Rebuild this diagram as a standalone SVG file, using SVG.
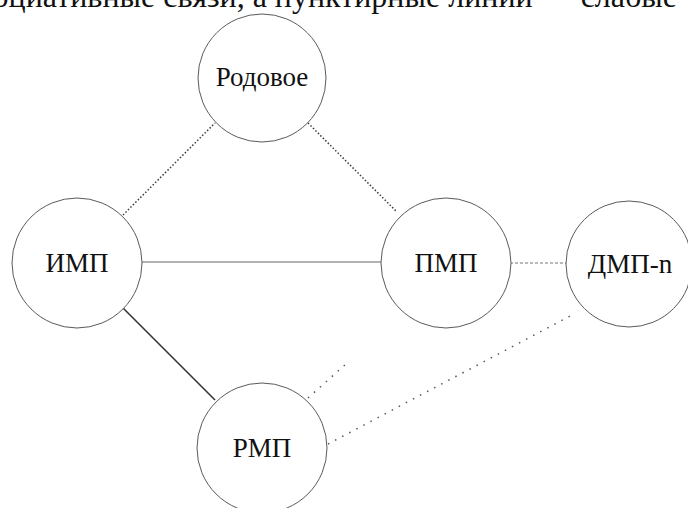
<svg xmlns="http://www.w3.org/2000/svg" width="688" height="508" viewBox="0 0 688 508">
<style>
.node circle{fill:#fff;stroke:#5a5a5a;stroke-width:1}
.dot{stroke:#3a3a3a;stroke-width:1.5;stroke-dasharray:1.5 2;fill:none}
.sparse{stroke:#555;stroke-width:1.5;stroke-dasharray:1.5 6.5;fill:none}
.dash{stroke:#777;stroke-width:1.2;stroke-dasharray:3 2;fill:none}
.solid{stroke:#666;stroke-width:1.2;fill:none}
.strong{stroke:#333;stroke-width:1.6;fill:none}
</style>
<rect width="688" height="508" fill="#fff"/>
<text x="677" y="7" text-anchor="end" style="font-family:'Liberation Serif',serif;font-size:32px;fill:#111">ассоциативные связи, а пунктирные линии — слабые</text>
<g id="connectors">
<line class="dot" x1="123" y1="215" x2="215" y2="123"/>
<line class="dot" x1="308" y1="123" x2="397" y2="212"/>
<line class="solid" x1="142" y1="262" x2="381" y2="262"/>
<line class="dash" x1="510" y1="263" x2="566" y2="263"/>
<line class="strong" x1="123" y1="308" x2="215" y2="400"/>
<line class="sparse" x1="308" y1="398" x2="347" y2="363"/>
<line class="sparse" x1="328" y1="444" x2="574" y2="314"/>
</g>
<g id="rodovoe" class="node"><circle cx="262" cy="78" r="64"/><text x="262" y="86" text-anchor="middle" style="font-family:'Liberation Serif',serif;font-size:27px;fill:#111">Родовое</text></g>
<g id="imp" class="node"><circle cx="77" cy="263" r="65"/><text x="77" y="272" text-anchor="middle" style="font-family:'Liberation Serif',serif;font-size:27px;fill:#111">ИМП</text></g>
<g id="pmp" class="node"><circle cx="446" cy="263" r="65"/><text x="446" y="272" text-anchor="middle" style="font-family:'Liberation Serif',serif;font-size:27px;fill:#111">ПМП</text></g>
<g id="dmp" class="node"><circle cx="629" cy="264" r="63"/><text x="630" y="273" text-anchor="middle" style="font-family:'Liberation Serif',serif;font-size:27px;fill:#111">ДМП-n</text></g>
<g id="rmp" class="node"><circle cx="262" cy="448" r="65"/><text x="262" y="457" text-anchor="middle" style="font-family:'Liberation Serif',serif;font-size:27px;fill:#111">РМП</text></g>
</svg>
